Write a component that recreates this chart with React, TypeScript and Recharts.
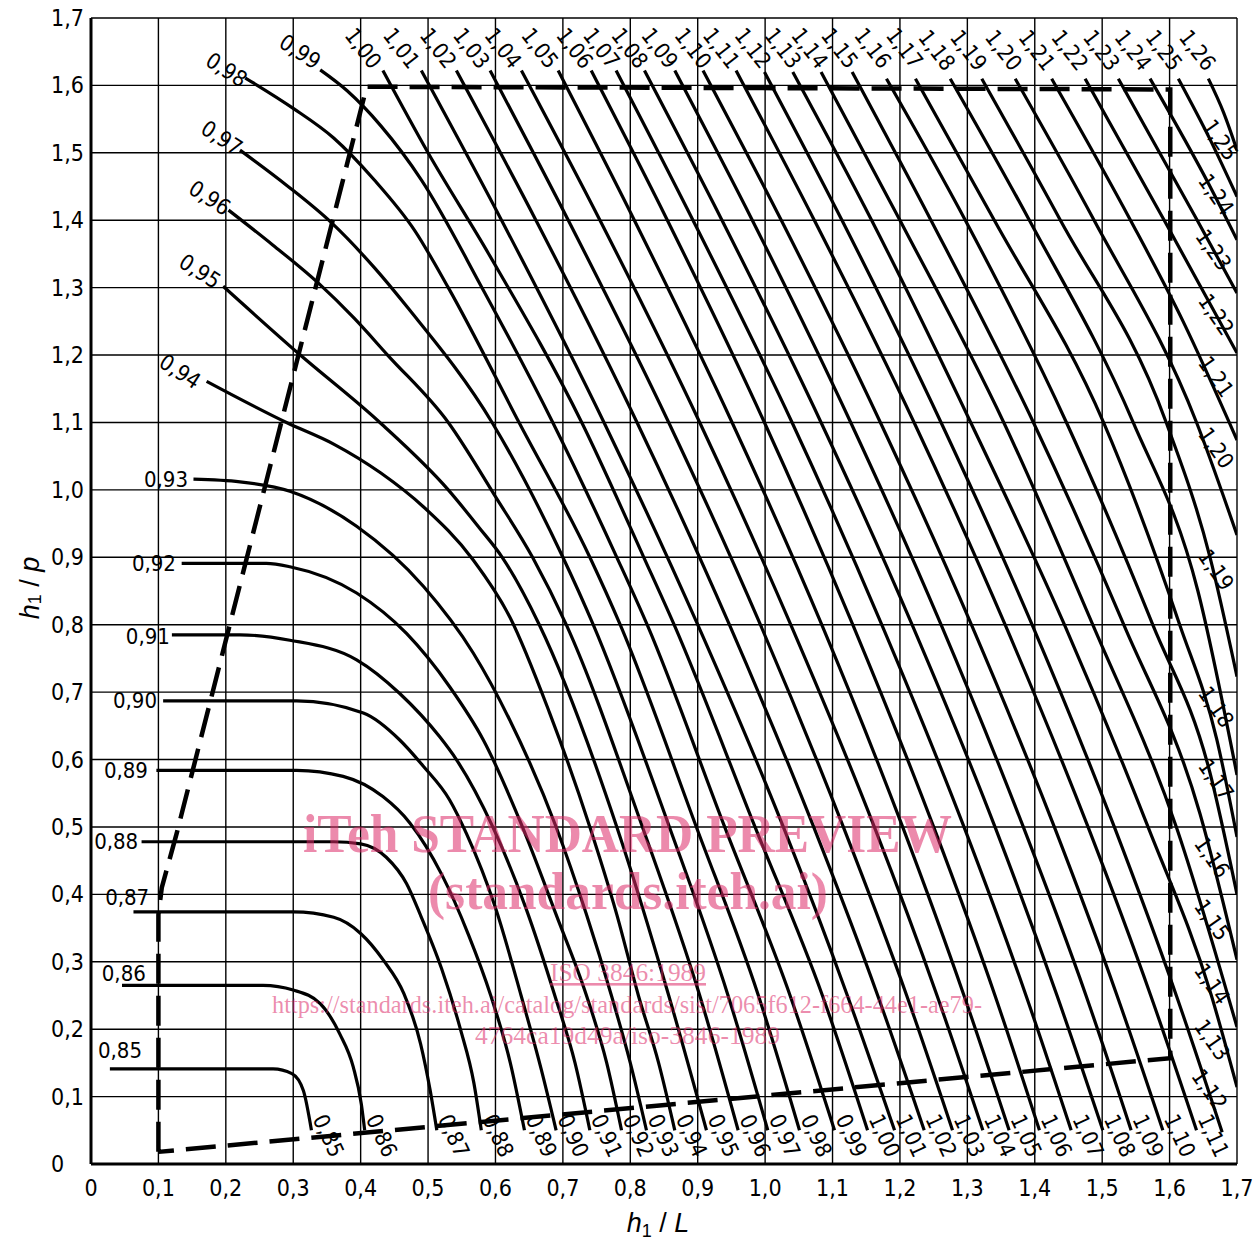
import React from "react"
import { LineChart, Line, XAxis, YAxis, CartesianGrid, ReferenceDot } from "recharts"

type Pt = [number, number]
type Tag = [number, number, number] // value, h1/L, h1/p

// points along each curve: [h1/L, h1/p]
const C085: Pt[] = [[0.028, 0.141], [0.27, 0.141], [0.298, 0.134], [0.315, 0.109], [0.327, 0.05]]
const C086: Pt[] = [[0.046, 0.265], [0.255, 0.265], [0.3, 0.258], [0.34, 0.238], [0.369, 0.193], [0.389, 0.144], [0.401, 0.089], [0.406, 0.05]]
const C087: Pt[] = [[0.063, 0.374], [0.3, 0.374], [0.36, 0.366], [0.4, 0.342], [0.434, 0.302], [0.464, 0.253], [0.489, 0.178], [0.503, 0.11], [0.513, 0.05]]
const C088: Pt[] = [[0.075, 0.478], [0.36, 0.478], [0.4, 0.475], [0.438, 0.455], [0.468, 0.416], [0.488, 0.371], [0.52, 0.29], [0.548, 0.2], [0.568, 0.12], [0.579, 0.05]]
const C089: Pt[] = [[0.097, 0.584], [0.305, 0.584], [0.374, 0.575], [0.433, 0.545], [0.473, 0.506], [0.52, 0.43], [0.56, 0.34], [0.593, 0.25], [0.622, 0.15], [0.643, 0.05]]
const C090: Pt[] = [[0.107, 0.687], [0.305, 0.687], [0.404, 0.669], [0.458, 0.629], [0.493, 0.59], [0.532, 0.54], [0.557, 0.49], [0.6, 0.38], [0.638, 0.25], [0.668, 0.14], [0.69, 0.05]]
const C091: Pt[] = [[0.12, 0.785], [0.221, 0.785], [0.295, 0.777], [0.394, 0.748], [0.458, 0.698], [0.517, 0.634], [0.542, 0.6], [0.596, 0.5], [0.645, 0.38], [0.688, 0.25], [0.718, 0.15], [0.74, 0.05]]
const C092: Pt[] = [[0.1345, 0.891], [0.26, 0.891], [0.295, 0.886], [0.394, 0.847], [0.468, 0.787], [0.532, 0.708], [0.582, 0.629], [0.64, 0.5], [0.69, 0.37], [0.735, 0.25], [0.765, 0.15], [0.787, 0.05]]
const C093: Pt[] = [[0.152, 1.016], [0.221, 1.012], [0.295, 0.998], [0.394, 0.946], [0.493, 0.857], [0.567, 0.758], [0.621, 0.659], [0.69, 0.5], [0.735, 0.37], [0.772, 0.25], [0.8, 0.15], [0.824, 0.05]]
const C094: Pt[] = [[0.1715, 1.161], [0.29, 1.1], [0.36, 1.068], [0.43, 1.025], [0.493, 0.975], [0.567, 0.896], [0.622, 0.81], [0.68, 0.67], [0.74, 0.5], [0.78, 0.37], [0.812, 0.25], [0.842, 0.15], [0.866, 0.05]]
const C095: Pt[] = [[0.196, 1.302], [0.307, 1.203], [0.4285, 1.1], [0.53, 1.0], [0.575, 0.945], [0.61, 0.9], [0.665, 0.8], [0.78, 0.5], [0.857, 0.25], [0.913, 0.05]]
const C096: Pt[] = [[0.204, 1.415], [0.27, 1.363], [0.337, 1.307], [0.39, 1.255], [0.44, 1.2], [0.53, 1.1], [0.6, 0.99], [0.655, 0.9], [0.705, 0.8], [0.818, 0.5], [0.903, 0.25], [0.96, 0.05]]
const C097: Pt[] = [[0.221, 1.504], [0.29, 1.452], [0.357, 1.396], [0.42, 1.33], [0.47, 1.27], [0.595, 1.1], [0.7, 0.9], [0.745, 0.8], [0.858, 0.5], [0.945, 0.25], [1.004, 0.05]]
const C098: Pt[] = [[0.229, 1.611], [0.3, 1.566], [0.36, 1.522], [0.42, 1.46], [0.48, 1.385], [0.53, 1.3], [0.635, 1.1], [0.74, 0.9], [0.785, 0.8], [0.898, 0.5], [0.99, 0.25], [1.051, 0.05]]
const C099: Pt[] = [[0.34, 1.623], [0.38, 1.592], [0.43, 1.54], [0.49, 1.46], [0.58, 1.3], [0.685, 1.1], [0.78, 0.9], [0.825, 0.8], [0.94, 0.5], [1.037, 0.25], [1.103, 0.05]]
const C100: Pt[] = [[0.433, 1.622], [0.5, 1.5], [0.59, 1.35], [0.728, 1.1], [0.82, 0.9], [0.865, 0.8], [0.985, 0.5], [1.085, 0.25], [1.152, 0.05]]
const C101: Pt[] = [[0.49, 1.622], [0.609, 1.4], [0.761, 1.1], [0.9, 0.8], [1.027, 0.5], [1.122, 0.25], [1.192, 0.05]]
const C102: Pt[] = [[0.542, 1.622], [0.66, 1.4], [0.81, 1.1], [0.947, 0.8], [1.072, 0.5], [1.167, 0.25], [1.236, 0.05]]
const C103: Pt[] = [[0.592, 1.622], [0.708, 1.4], [0.857, 1.1], [0.993, 0.8], [1.116, 0.5], [1.21, 0.25], [1.278, 0.05]]
const C104: Pt[] = [[0.6385, 1.622], [0.755, 1.4], [0.903, 1.1], [1.038, 0.8], [1.162, 0.5], [1.255, 0.25], [1.323, 0.05]]
const C105: Pt[] = [[0.693, 1.622], [0.806, 1.4], [0.951, 1.1], [1.084, 0.8], [1.204, 0.5], [1.295, 0.25], [1.362, 0.05]]
const C106: Pt[] = [[0.742, 1.622], [0.855, 1.4], [0.999, 1.1], [1.13, 0.8], [1.25, 0.5], [1.341, 0.25], [1.407, 0.05]]
const C107: Pt[] = [[0.779, 1.622], [0.893, 1.4], [1.04, 1.1], [1.173, 0.8], [1.295, 0.5], [1.387, 0.25], [1.454, 0.05]]
const C108: Pt[] = [[0.821, 1.622], [0.936, 1.4], [1.083, 1.1], [1.218, 0.8], [1.341, 0.5], [1.433, 0.25], [1.501, 0.05]]
const C109: Pt[] = [[0.866, 1.622], [0.981, 1.4], [1.127, 1.1], [1.261, 0.8], [1.383, 0.5], [1.476, 0.25], [1.543, 0.05]]
const C110: Pt[] = [[0.908, 1.622], [1.024, 1.4], [1.171, 1.1], [1.306, 0.8], [1.429, 0.5], [1.522, 0.25], [1.59, 0.05]]
const C111: Pt[] = [[0.957, 1.622], [1.073, 1.4], [1.221, 1.1], [1.356, 0.8], [1.479, 0.5], [1.572, 0.25], [1.64, 0.05]]
const C112: Pt[] = [[0.999, 1.62], [1.114, 1.4], [1.261, 1.1], [1.396, 0.8], [1.518, 0.5], [1.61, 0.25], [1.678, 0.047]]
const C113: Pt[] = [[1.041, 1.62], [1.158, 1.4], [1.305, 1.1], [1.444, 0.8], [1.568, 0.5], [1.662, 0.25], [1.7, 0.114]]
const C114: Pt[] = [[1.083, 1.62], [1.2, 1.4], [1.354, 1.1], [1.486, 0.8], [1.61, 0.5], [1.7, 0.203]]
const C115: Pt[] = [[1.129, 1.62], [1.246, 1.4], [1.398, 1.1], [1.532, 0.8], [1.645, 0.52], [1.7, 0.303]]
const C116: Pt[] = [[1.18, 1.61], [1.297, 1.4], [1.447, 1.1], [1.575, 0.8], [1.66, 0.58], [1.7, 0.4]]
const C117: Pt[] = [[1.223, 1.61], [1.34, 1.4], [1.502, 1.1], [1.615, 0.8], [1.67, 0.63], [1.7, 0.485]]
const C118: Pt[] = [[1.2746, 1.61], [1.392, 1.4], [1.546, 1.1], [1.642, 0.85], [1.7, 0.577]]
const C119: Pt[] = [[1.3214, 1.61], [1.438, 1.4], [1.595, 1.1], [1.66, 0.9], [1.7, 0.723]]
const C120: Pt[] = [[1.371, 1.61], [1.488, 1.4], [1.64, 1.1], [1.7, 0.933]]
const C121: Pt[] = [[1.425, 1.61], [1.542, 1.4], [1.62, 1.25], [1.7, 1.074]]
const C122: Pt[] = [[1.4747, 1.61], [1.592, 1.4], [1.7, 1.203]]
const C123: Pt[] = [[1.524, 1.61], [1.641, 1.4], [1.7, 1.292]]
const C124: Pt[] = [[1.571, 1.61], [1.66, 1.45], [1.7, 1.371]]
const C125: Pt[] = [[1.613, 1.61], [1.66, 1.52], [1.7, 1.435]]
const C126: Pt[] = [[1.6575, 1.61], [1.68, 1.56], [1.7, 1.504]]

const CURVES: [number, Pt[]][] = [
  [0.85, C085], [0.86, C086], [0.87, C087], [0.88, C088], [0.89, C089], [0.9, C090], [0.91, C091],
  [0.92, C092], [0.93, C093], [0.94, C094], [0.95, C095], [0.96, C096], [0.97, C097], [0.98, C098],
  [0.99, C099], [1.0, C100], [1.01, C101], [1.02, C102], [1.03, C103], [1.04, C104], [1.05, C105],
  [1.06, C106], [1.07, C107], [1.08, C108], [1.09, C109], [1.1, C110], [1.11, C111], [1.12, C112],
  [1.13, C113], [1.14, C114], [1.15, C115], [1.16, C116], [1.17, C117], [1.18, C118], [1.19, C119],
  [1.2, C120], [1.21, C121], [1.22, C122], [1.23, C123], [1.24, C124], [1.25, C125], [1.26, C126],
]

// dashed validity boundary
const BOUNDARY: Pt[] = [[0.1, 0.018], [0.1, 0.37], [0.105, 0.41], [0.127, 0.49], [0.409, 1.598], [1.601, 1.594], [1.601, 0.157], [0.1, 0.018]]

const TICKS = [0, 0.1, 0.2, 0.3, 0.4, 0.5, 0.6, 0.7, 0.8, 0.9, 1.0, 1.1, 1.2, 1.3, 1.4, 1.5, 1.6, 1.7]

// curve labels
const LEFT_TAGS: Tag[] = [[0.93, 0.144, 1.016], [0.92, 0.126, 0.891], [0.91, 0.117, 0.783], [0.9, 0.098, 0.687], [0.89, 0.0845, 0.584], [0.88, 0.07, 0.478]]
const LOW_TAGS: Tag[] = [[0.87, 0.021, 0.396], [0.86, 0.016, 0.282], [0.85, 0.0104, 0.169]]
const SLANT_TAGS: Tag[] = [[0.94, 0.132, 1.1755], [0.95, 0.1616, 1.324], [0.96, 0.176, 1.433], [0.97, 0.194, 1.522], [0.98, 0.201, 1.623], [0.99, 0.31, 1.65]]
const TOP_TAGS: Tag[] = [
  [1.0, 0.4037, 1.655], [1.01, 0.4604, 1.655], [1.02, 0.5149, 1.655], [1.03, 0.5644, 1.655], [1.04, 0.6113, 1.655],
  [1.05, 0.6657, 1.655], [1.06, 0.7175, 1.655], [1.07, 0.7571, 1.655], [1.08, 0.799, 1.655], [1.09, 0.8436, 1.655],
  [1.1, 0.893, 1.655], [1.11, 0.935, 1.655], [1.12, 0.9819, 1.655], [1.13, 1.0264, 1.655], [1.14, 1.066, 1.655],
  [1.15, 1.1104, 1.655], [1.16, 1.1598, 1.655], [1.17, 1.2068, 1.655], [1.18, 1.2547, 1.652], [1.19, 1.3017, 1.652],
  [1.2, 1.3536, 1.652], [1.21, 1.4031, 1.652], [1.22, 1.4519, 1.652], [1.23, 1.4989, 1.652], [1.24, 1.5458, 1.652],
  [1.25, 1.5916, 1.652], [1.26, 1.6412, 1.652],
]
const BOTTOM_TAGS: Tag[] = [
  [0.85, 0.352, 0.042], [0.86, 0.431, 0.042], [0.87, 0.538, 0.042], [0.88, 0.604, 0.042], [0.89, 0.668, 0.042],
  [0.9, 0.715, 0.042], [0.91, 0.765, 0.042], [0.92, 0.812, 0.042], [0.93, 0.849, 0.042], [0.94, 0.891, 0.042],
  [0.95, 0.938, 0.042], [0.96, 0.985, 0.042], [0.97, 1.029, 0.042], [0.98, 1.076, 0.042], [0.99, 1.128, 0.042],
  [1.0, 1.177, 0.042], [1.01, 1.217, 0.042], [1.02, 1.261, 0.042], [1.03, 1.303, 0.042], [1.04, 1.348, 0.042],
  [1.05, 1.387, 0.042], [1.06, 1.432, 0.042], [1.07, 1.479, 0.042], [1.08, 1.526, 0.042], [1.09, 1.568, 0.042],
  [1.1, 1.615, 0.042], [1.11, 1.665, 0.042],
]
const RIGHT_TAGS: Tag[] = [
  [1.25, 1.675, 1.519], [1.24, 1.669, 1.438], [1.23, 1.665, 1.356], [1.22, 1.669, 1.26], [1.21, 1.669, 1.168],
  [1.2, 1.669, 1.062], [1.19, 1.669, 0.881], [1.18, 1.669, 0.678], [1.17, 1.669, 0.57], [1.16, 1.663, 0.455],
  [1.15, 1.663, 0.362], [1.14, 1.663, 0.267], [1.13, 1.663, 0.184], [1.12, 1.659, 0.11],
]

const WATERMARK = [
  "iTeh STANDARD PREVIEW",
  "(standards.iteh.ai)",
  "ISO 3846:1989",
  "https://standards.iteh.ai/catalog/standards/sist/7065f612-f664-44e1-ae79-",
  "4764ca19d49a/iso-3846-1989",
]

const W = 1254
const H = 1247
const NARROW = "'Liberation Sans Narrow', 'DejaVu Sans Condensed', 'Liberation Sans', sans-serif"
const PINK = "#dc2a68"

const comma = (v: number, d: number) => v.toFixed(d).replace(".", ",")
const tickText = (v: number) => (v === 0 ? "0" : comma(v, 1))
const toRows = (pts: Pt[]) => pts.map(([x, y]) => ({ x, y }))

const XTick = (props: any) => (
  <text x={props.x} y={1188} textAnchor="middle" dominantBaseline="central" fontFamily={NARROW} fontSize={23} fill="#000">
    {tickText(props.payload.value)}
  </text>
)

const YTick = (props: any) => (
  <text x={51} y={props.y} textAnchor="start" dominantBaseline="central" fontFamily={NARROW} fontSize={23} fill="#000">
    {tickText(props.payload.value)}
  </text>
)

const tagShape = (text: string, angle: number, anchor: string) => (p: any) => (
  <text
    x={p.cx}
    y={p.cy}
    transform={angle ? `rotate(${angle} ${p.cx} ${p.cy})` : undefined}
    textAnchor={anchor}
    dominantBaseline="central"
    fontFamily={NARROW}
    fontSize={22}
    fill="#000"
  >
    {text}
  </text>
)

function tags(list: Tag[], group: string, angle: number, anchor = "middle") {
  return list.map(([v, x, y]) => (
    <ReferenceDot key={group + v} x={x} y={y} r={0} ifOverflow="visible" shape={tagShape(comma(v, 2), angle, anchor)} />
  ))
}

export default function App() {
  return (
    <div style={{ position: "absolute", left: 0, top: 0, width: W, height: H, background: "#fff" }}>
      <LineChart width={W} height={H} margin={{ top: 18, right: 17, bottom: 0, left: 0 }}>
        <CartesianGrid stroke="#000" strokeWidth={1.4} />
        <XAxis
          dataKey="x"
          type="number"
          domain={[0, 1.7]}
          ticks={TICKS}
          interval={0}
          height={83}
          tickLine={false}
          axisLine={{ stroke: "#000", strokeWidth: 3 }}
          tick={XTick}
          allowDataOverflow
        />
        <YAxis
          type="number"
          domain={[0, 1.7]}
          ticks={TICKS}
          interval={0}
          width={91}
          tickLine={false}
          axisLine={{ stroke: "#000", strokeWidth: 3 }}
          tick={YTick}
          allowDataOverflow
        />
        {CURVES.map(([v, pts]) => (
          <Line
            key={v}
            data={toRows(pts)}
            dataKey="y"
            type="monotone"
            stroke="#000"
            strokeWidth={3.2}
            dot={false}
            activeDot={false}
            isAnimationActive={false}
          />
        ))}
        <Line
          data={toRows(BOUNDARY)}
          dataKey="y"
          type="linear"
          stroke="#000"
          strokeWidth={4.5}
          strokeDasharray="30 12"
          dot={false}
          activeDot={false}
          isAnimationActive={false}
        />
        {tags(LEFT_TAGS, "l", 0, "end")}
        {tags(LOW_TAGS, "w", 0, "start")}
        {tags(SLANT_TAGS, "s", 33)}
        {tags(TOP_TAGS, "t", 52)}
        {tags(BOTTOM_TAGS, "b", 65)}
        {tags(RIGHT_TAGS, "r", 55)}
      </LineChart>
      <svg width={W} height={H} style={{ position: "absolute", left: 0, top: 0, pointerEvents: "none" }}>
        <text x={658} y={1232} textAnchor="middle" fontFamily="'Liberation Sans', sans-serif" fontSize={27} fill="#000">
          <tspan fontStyle="italic">h</tspan>
          <tspan fontSize={18} dy={5}>1</tspan>
          <tspan dy={-5}> / </tspan>
          <tspan fontStyle="italic">L</tspan>
        </text>
        <text
          x={30}
          y={588}
          transform="rotate(-90 30 588)"
          textAnchor="middle"
          dominantBaseline="central"
          fontFamily="'Liberation Sans', sans-serif"
          fontSize={27}
          fill="#000"
        >
          <tspan fontStyle="italic">h</tspan>
          <tspan fontSize={18} dy={5}>1</tspan>
          <tspan dy={-5}> / </tspan>
          <tspan fontStyle="italic">p</tspan>
        </text>
        <g fill={PINK} fillOpacity={0.55} fontFamily="'Liberation Serif', serif">
          <text x={303} y={852} fontSize={54} fontWeight="bold" textLength={649} lengthAdjust="spacingAndGlyphs">{WATERMARK[0]}</text>
          <text x={428} y={909} fontSize={52} fontWeight="bold" textLength={400} lengthAdjust="spacingAndGlyphs">{WATERMARK[1]}</text>
          <text x={550} y={981} fontSize={26} textDecoration="underline" textLength={156} lengthAdjust="spacingAndGlyphs">{WATERMARK[2]}</text>
          <text x={272} y={1013} fontSize={26} textLength={710} lengthAdjust="spacingAndGlyphs">{WATERMARK[3]}</text>
          <text x={475} y={1044} fontSize={26} textLength={305} lengthAdjust="spacingAndGlyphs">{WATERMARK[4]}</text>
        </g>
      </svg>
    </div>
  )
}
